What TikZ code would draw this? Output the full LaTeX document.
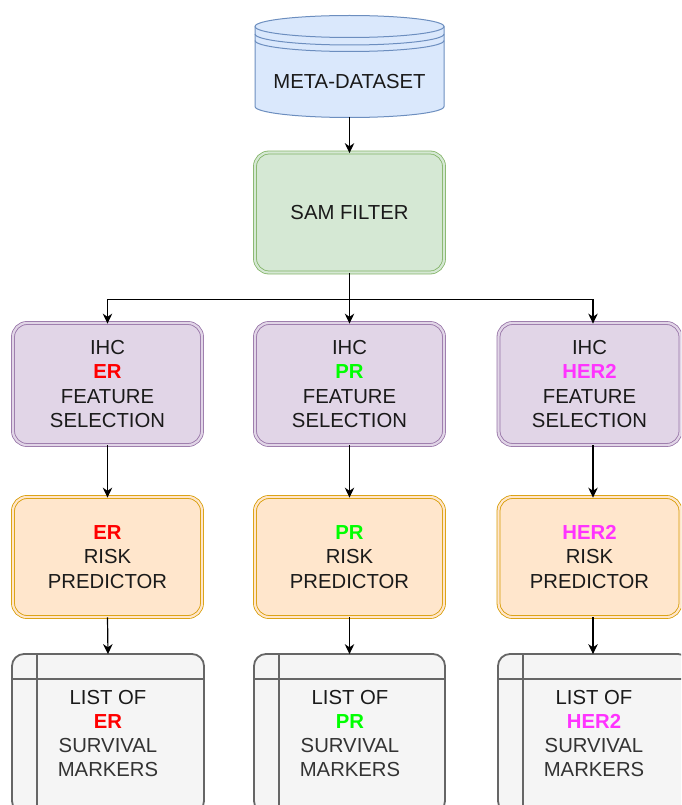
\documentclass[tikz,border=0pt]{standalone}
\usepackage{fontspec}
\setmainfont{Liberation Sans}
\usetikzlibrary{arrows.meta}
\definecolor{blueF}{HTML}{DAE8FC}\definecolor{blueD}{HTML}{6C8EBF}
\definecolor{greenF}{HTML}{D5E8D4}\definecolor{greenD}{HTML}{82B366}
\definecolor{purpF}{HTML}{E1D5E7}\definecolor{purpD}{HTML}{9673A6}
\definecolor{orgF}{HTML}{FFE6CC}\definecolor{orgD}{HTML}{D79B00}
\definecolor{grayF}{HTML}{F5F5F5}\definecolor{grayD}{HTML}{666666}
\definecolor{txt}{HTML}{1A1A1A}\definecolor{gtxt}{HTML}{333333}
\definecolor{cER}{HTML}{FF0000}\definecolor{cPR}{HTML}{00FF00}\definecolor{cHER}{HTML}{FF33FF}
\newcommand{\ER}{\textcolor{cER}{\bfseries ER}}
\newcommand{\PRx}{\textcolor{cPR}{\bfseries PR}}
\newcommand{\HER}{\textcolor{cHER}{\bfseries HER2}}
\begin{document}
\begin{tikzpicture}[x=1pt,y=-1pt,
  lbl/.style={font=\fontsize{20.3}{24.3}\selectfont, text=txt, align=center, inner sep=0pt},
  box/.style={lbl, rectangle, rounded corners=14pt, minimum height=120pt, line width=0.8pt, double distance=2.2pt},
  sambox/.style={box, fill=greenF, draw=greenD, double=greenF, minimum width=189pt},
  ihcbox/.style={box, fill=purpF, draw=purpD, double=purpF},
  riskbox/.style={box, fill=orgF, draw=orgD, double=orgF},
  listbox/.style={rectangle, rounded corners=12pt, fill=grayF, draw=grayD, line width=1.8pt, minimum height=159pt, inner sep=0pt},
  arr/.style={-{Stealth[length=10pt,width=9.5pt]}, line width=1.2pt, draw=black},
  ln/.style={line width=1.2pt, draw=black},
  cyl/.style={draw=blueD, line width=1pt}]
\useasboundingbox (0,0) rectangle (681,805);
\clip (0,0) rectangle (681,805);

% cylinder (datastore)
\fill[blueF] (255,26.5) arc[start angle=180,end angle=0,x radius=94.5pt,y radius=11pt] -- (444,106.5)
  arc[start angle=0,end angle=-180,x radius=94.5pt,y radius=11pt] -- cycle;
\draw[cyl] (255,26.5) arc[start angle=180,end angle=-180,x radius=94.5pt,y radius=11pt];
\draw[cyl] (255,26.5) -- (255,106.5) arc[start angle=180,end angle=360,x radius=94.5pt,y radius=11pt] -- (444,26.5);
\draw[cyl] (255,34) arc[start angle=180,end angle=360,x radius=94.5pt,y radius=11pt];
\draw[cyl] (255,40.5) arc[start angle=180,end angle=360,x radius=94.5pt,y radius=11pt];
\node[lbl] (meta) at (349.5,82) {META-DATASET};
\coordinate (metab) at (349.5,117.5);

\node[sambox] (sam) at (349.5,212.5) {SAM FILTER};

\node[ihcbox, minimum width=189pt, minimum height=122pt] (ihcL) at (107.5,384) {IHC\\\ER\\FEATURE\\SELECTION};
\node[ihcbox, minimum width=189pt, minimum height=122pt] (ihcM) at (349.5,384) {IHC\\\PRx\\FEATURE\\SELECTION};
\node[ihcbox, minimum width=182pt, minimum height=122pt] (ihcR) at (589.5,384) {IHC\\\HER\\FEATURE\\SELECTION};

\node[riskbox, minimum width=189pt] (riskL) at (107.5,557) {\ER\\RISK\\PREDICTOR};
\node[riskbox, minimum width=189pt] (riskM) at (349.5,557) {\PRx\\RISK\\PREDICTOR};
\node[riskbox, minimum width=182pt] (riskR) at (589.5,557) {\HER\\RISK\\PREDICTOR};

\node[listbox, minimum width=192pt] (listL) at (108,733.5) {};
\node[listbox, minimum width=191pt] (listM) at (349.5,733.5) {};
\node[listbox, minimum width=192pt] (listR) at (594,733.5) {};
\foreach \b in {listL,listM,listR}{
  \draw[grayD,line width=1.8pt] (\b.north west) ++(0,26) -- ([yshift=-26pt]\b.north east);
  \draw[grayD,line width=1.8pt] (\b.north west) ++(26,0) -- ([xshift=26pt]\b.south west);
}
\node[lbl] (tL) at (108,733.5) {\textcolor{txt}{LIST OF}\\\ER\\\textcolor{gtxt}{SURVIVAL}\\\textcolor{gtxt}{MARKERS}};
\node[lbl] (tM) at (350,733.5) {\textcolor{txt}{LIST OF}\\\PRx\\\textcolor{gtxt}{SURVIVAL}\\\textcolor{gtxt}{MARKERS}};
\node[lbl] (tR) at (594,733.5) {\textcolor{txt}{LIST OF}\\\HER\\\textcolor{gtxt}{SURVIVAL}\\\textcolor{gtxt}{MARKERS}};

% connectors
\coordinate (xR) at (593,0);
\coordinate (bus) at (0,299.5);
\draw[arr] (metab) -- ([yshift=-1pt]sam.north);
\draw[ln] (sam.south) -- (sam.south |- bus);
\draw[arr] (sam.south |- bus) -- ([yshift=-1pt]ihcM.north);
\draw[arr] (sam.south |- bus) -| ([yshift=-1pt]ihcL.north);
\draw[arr] (sam.south |- bus) -| ([yshift=-1pt]ihcR.north -| xR);
\draw[arr] (ihcL.south) -- ([yshift=-1pt]riskL.north);
\draw[arr] (ihcM.south) -- ([yshift=-1pt]riskM.north);
\draw[arr] (ihcR.south -| xR) -- ([yshift=-1pt]riskR.north -| xR);
\draw[arr] (riskL.south) -- ([yshift=-1pt]listL.north);
\draw[arr] (riskM.south) -- ([yshift=-1pt]listM.north);
\draw[arr] (riskR.south -| xR) -- ([yshift=-1pt]listR.north -| xR);
\end{tikzpicture}
\end{document}
